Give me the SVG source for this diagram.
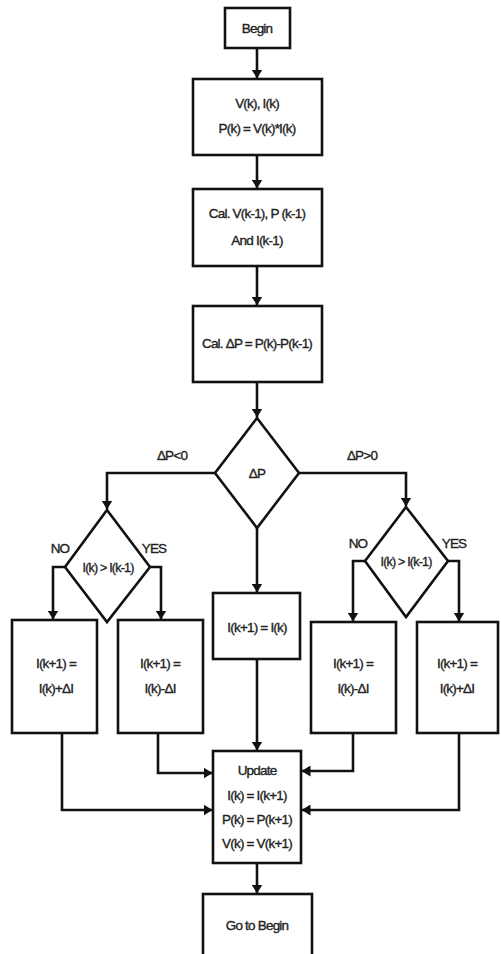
<svg xmlns="http://www.w3.org/2000/svg" width="501" height="954" viewBox="0 0 501 954">
<style>
.box{fill:#fff;stroke:#111;stroke-width:2.6}
.ln{fill:none;stroke:#111;stroke-width:2.6}
.t{font-family:"Liberation Sans",Arial,sans-serif;font-size:13.5px;fill:#222;stroke:#222;stroke-width:0.35;text-anchor:middle;letter-spacing:-0.8px}
</style>
<defs>
<marker id="ah" markerWidth="9" markerHeight="11" refX="8.5" refY="5.5" orient="auto" markerUnits="userSpaceOnUse">
<path d="M0,0 L9,5.5 L0,11 Z" fill="#111"/>
</marker>
</defs>
<rect width="501" height="954" fill="#fff"/>
<g id="connectors">
<path class="ln" d="M257,48 V78" marker-end="url(#ah)"/>
<path class="ln" d="M257,155 V188" marker-end="url(#ah)"/>
<path class="ln" d="M257,266 V305" marker-end="url(#ah)"/>
<path class="ln" d="M257,382 V417" marker-end="url(#ah)"/>
<path class="ln" d="M215,473 H107 V509" marker-end="url(#ah)"/>
<path class="ln" d="M299,473 H406 V506" marker-end="url(#ah)"/>
<path class="ln" d="M257,528 V592" marker-end="url(#ah)"/>
<path class="ln" d="M65,567 H53 V619" marker-end="url(#ah)"/>
<path class="ln" d="M150,567 H161 V619" marker-end="url(#ah)"/>
<path class="ln" d="M365,561 H353 V621" marker-end="url(#ah)"/>
<path class="ln" d="M448,561 H459 V621" marker-end="url(#ah)"/>
<path class="ln" d="M257,659 V750" marker-end="url(#ah)"/>
<path class="ln" d="M158,733 V773 H212" marker-end="url(#ah)"/>
<path class="ln" d="M62,733 V810 H212" marker-end="url(#ah)"/>
<path class="ln" d="M353,733 V771 H302" marker-end="url(#ah)"/>
<path class="ln" d="M459,733 V810 H302" marker-end="url(#ah)"/>
<path class="ln" d="M257,863 V893" marker-end="url(#ah)"/>
<text class="t" x="172" y="460">ΔP&lt;0</text>
<text class="t" x="362" y="460">ΔP&gt;0</text>
<text class="t" x="60" y="553">NO</text>
<text class="t" x="154" y="553">YES</text>
<text class="t" x="358" y="548">NO</text>
<text class="t" x="454" y="548">YES</text>
</g>
<g id="begin">
<rect class="box" x="225" y="8" width="65" height="40"/>
<text class="t" x="257" y="33">Begin</text>
</g>
<g id="measure">
<rect class="box" x="193" y="79" width="129" height="76"/>
<text class="t" x="257" y="108">V(k), I(k)</text>
<text class="t" x="257" y="133">P(k) = V(k)*I(k)</text>
</g>
<g id="calc">
<rect class="box" x="193" y="189" width="129" height="77"/>
<text class="t" x="257" y="218">Cal. V(k-1), P (k-1)</text>
<text class="t" x="257" y="245">And I(k-1)</text>
</g>
<g id="deltap">
<rect class="box" x="193" y="306" width="129" height="76"/>
<text class="t" x="257" y="348">Cal. ΔP = P(k)-P(k-1)</text>
</g>
<g id="decision">
<polygon class="box" points="257,418 299,473 257,528 215,473"/>
<text class="t" x="257" y="478">ΔP</text>
</g>
<g id="leftdecision">
<polygon class="box" points="107,510 150,567 107,622 65,567"/>
<text class="t" x="108" y="572" style="font-size:12.5px">I(k) &gt; I(k-1)</text>
</g>
<g id="rightdecision">
<polygon class="box" points="406,507 448,561 406,617 365,561"/>
<text class="t" x="406" y="566" style="font-size:12.5px">I(k) &gt; I(k-1)</text>
</g>
<g id="l1">
<rect class="box" x="12" y="620" width="85" height="113"/>
<text class="t" x="56" y="668">I(k+1) =</text>
<text class="t" x="56" y="693">I(k)+ΔI</text>
</g>
<g id="l2">
<rect class="box" x="118" y="620" width="85" height="113"/>
<text class="t" x="160" y="668">I(k+1) =</text>
<text class="t" x="160" y="693">I(k)-ΔI</text>
</g>
<g id="mid">
<rect class="box" x="213" y="593" width="87" height="66"/>
<text class="t" x="257" y="632">I(k+1) = I(k)</text>
</g>
<g id="r1">
<rect class="box" x="311" y="622" width="85" height="111"/>
<text class="t" x="353" y="668">I(k+1) =</text>
<text class="t" x="353" y="693">I(k)-ΔI</text>
</g>
<g id="r2">
<rect class="box" x="417" y="622" width="81" height="111"/>
<text class="t" x="457" y="668">I(k+1) =</text>
<text class="t" x="457" y="693">I(k)+ΔI</text>
</g>
<g id="update">
<rect class="box" x="213" y="751" width="88" height="112"/>
<text class="t" x="257" y="775">Update</text>
<text class="t" x="257" y="800">I(k) = I(k+1)</text>
<text class="t" x="257" y="824">P(k) = P(k+1)</text>
<text class="t" x="257" y="848">V(k) = V(k+1)</text>
</g>
<g id="goto">
<rect class="box" x="203" y="894" width="109" height="66"/>
<text class="t" x="257" y="930">Go to Begin</text>
</g>
</svg>
